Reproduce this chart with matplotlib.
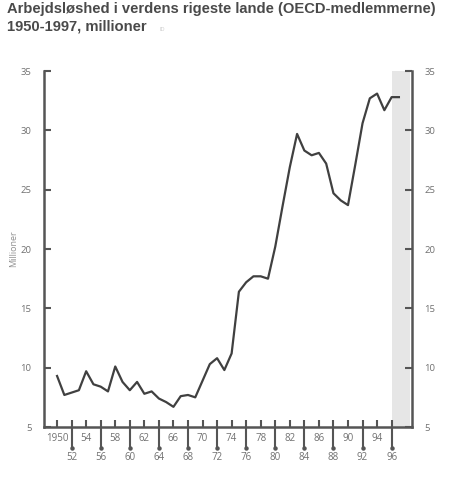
import matplotlib
matplotlib.use("Agg")
import matplotlib.pyplot as plt
from matplotlib.ticker import FixedLocator, FixedFormatter

years = list(range(1950, 1998))
unemployed = [9.3, 7.7, 7.9, 8.1, 9.7, 8.6, 8.4, 8.0, 10.1, 8.8,
              8.1, 8.8, 7.8, 8.0, 7.4, 7.1, 6.7, 7.6, 7.7, 7.5,
              8.9, 10.3, 10.8, 9.8, 11.2, 16.4, 17.2, 17.7, 17.7, 17.5,
              20.2, 23.6, 26.9, 29.7, 28.3, 27.9, 28.1, 27.2, 24.7, 24.1,
              23.7, 27.1, 30.6, 32.7, 33.1, 31.7, 32.8, 32.8]
upper_ticks = [1950, 1954, 1958, 1962, 1966, 1970, 1974, 1978, 1982, 1986, 1990, 1994]
upper_labels = ["1950", "54", "58", "62", "66", "70", "74", "78", "82", "86", "90", "94"]
lower_ticks = [1952, 1956, 1960, 1964, 1968, 1972, 1976, 1980, 1984, 1988, 1992, 1996]
lower_labels = ["52", "56", "60", "64", "68", "72", "76", "80", "84", "88", "92", "96"]
y_ticks = [5, 10, 15, 20, 25, 30, 35]
shade_span = [1996, 1998.5]

title_line1 = "Arbejdsløshed i verdens rigeste lande (OECD-medlemmerne)"
title_line2 = "1950-1997, millioner"

fig = plt.figure(figsize=(4.61, 4.80), dpi=100)
ax = fig.add_axes([0.0954, 0.1104, 0.7983, 0.7416])

axis_col = "#555555"
text_col = "#707070"

ax.axvspan(shade_span[0], shade_span[1], color="#e6e6e6", lw=0, zorder=0)
ax.plot(years, unemployed, color="#404040", lw=1.6, zorder=3)

ax.set_xlim(1948.2, 1998.8)
ax.set_ylim(5, 35)

ax.spines["top"].set_visible(False)
for s in ["left", "right", "bottom"]:
    ax.spines[s].set_color(axis_col)
    ax.spines[s].set_linewidth(1.8)

# y ticks both sides
ax.set_yticks(y_ticks)
ax.tick_params(axis="y", which="major", direction="in", length=5, width=1.5,
               color=axis_col, labelsize=6.8, labelcolor=text_col,
               left=True, right=True, labelleft=True, labelright=True, pad=9)
for lab in ax.get_yticklabels():
    lab.set_family("Open Sans")

# x ticks: short inward ticks at every label position; long outward ticks for lower row
all_ticks = sorted(upper_ticks + lower_ticks)
all_labels = [upper_labels[upper_ticks.index(t)] if t in upper_ticks else "" for t in all_ticks]
ax.xaxis.remove_overlapping_locs = False
ax.xaxis.set_major_locator(FixedLocator(all_ticks))
ax.xaxis.set_major_formatter(FixedFormatter(all_labels))
ax.xaxis.set_minor_locator(FixedLocator(lower_ticks))
ax.xaxis.set_minor_formatter(FixedFormatter(lower_labels))
ax.tick_params(axis="x", which="major", direction="in", length=5, width=1.5,
               color=axis_col, labelsize=7, labelcolor=text_col, pad=4)
ax.tick_params(axis="x", which="minor", direction="out", length=15, width=1.5,
               color=axis_col, labelsize=7, labelcolor=text_col, pad=3)
for lab in ax.get_xticklabels(which="both"):
    lab.set_family("Open Sans")
# small dots at ends of long ticks
ax.plot(lower_ticks, [-0.06] * len(lower_ticks), "o", ms=2.2, color=axis_col,
        transform=ax.get_xaxis_transform(), clip_on=False)

ax.set_ylabel("Millioner", fontsize=6.5, color="#909090", family="Open Sans", labelpad=2)

fig.text(0.015, 0.995, title_line1, ha="left", va="top", fontsize=10.6, fontweight="bold",
         color="#4a4a4a", family="Liberation Sans")
fig.text(0.015, 0.959, title_line2, ha="left", va="top", fontsize=10.6, fontweight="bold",
         color="#4a4a4a", family="Liberation Sans")
fig.text(0.345, 0.936, "ID", fontsize=4, color="#cccccc", family="Liberation Sans")

fig.savefig("out.png", dpi=100)
